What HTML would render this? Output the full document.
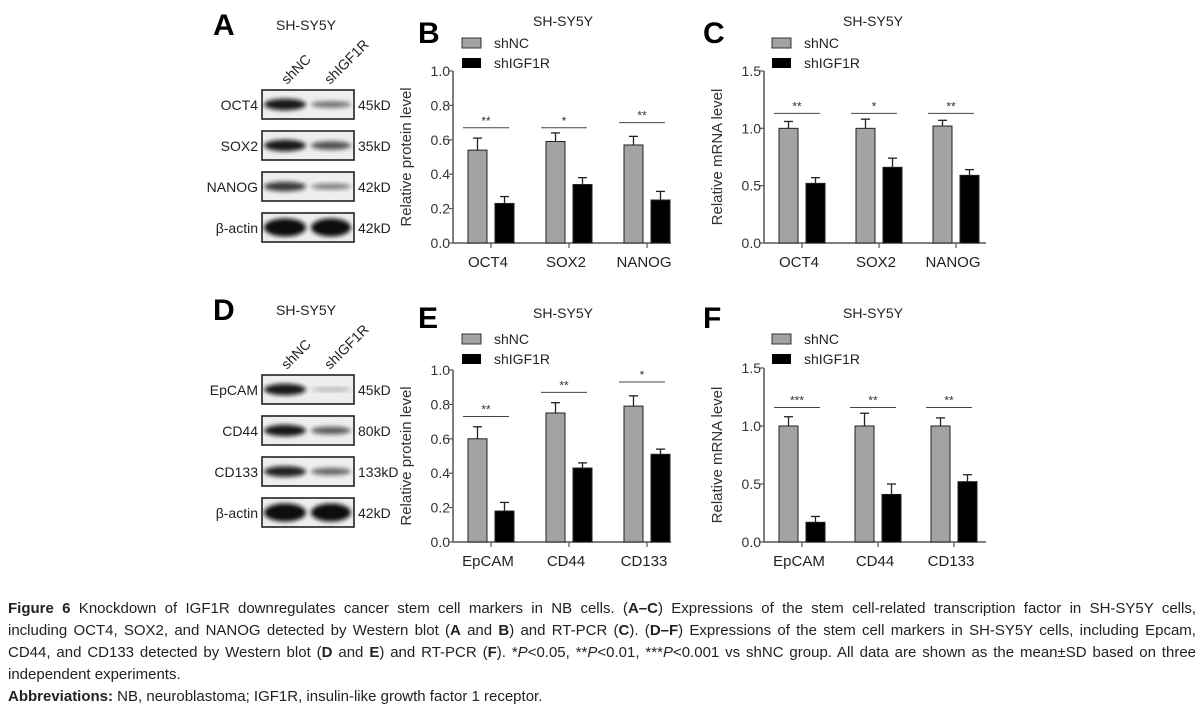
<!DOCTYPE html>
<html><head><meta charset="utf-8"><style>
body{margin:0;background:#fff;width:1204px;height:720px;overflow:hidden;font-family:"Liberation Sans",sans-serif}
#cap{position:absolute;left:8px;top:598px;width:1188px;font-size:15px;line-height:22px;color:#222}
#cap div{text-align:justify;text-align-last:justify;white-space:nowrap;overflow:visible}
#cap div.last{text-align-last:left}
</style></head><body>
<svg id="fig" width="1204" height="590" style="position:absolute;left:0;top:0" font-family="Liberation Sans, sans-serif">
<defs>
<filter id="blur" x="-20%" y="-50%" width="140%" height="200%"><feGaussianBlur stdDeviation="2.2"/></filter>
</defs>
</svg>
<div id="cap">
<div style="white-space:normal"><b>Figure 6</b> Knockdown of IGF1R downregulates cancer stem cell markers in NB cells. (<b>A–C</b>) Expressions of the stem cell-related transcription factor in SH-SY5Y cells,</div>
<div style="white-space:normal">including OCT4, SOX2, and NANOG detected by Western blot (<b>A</b> and <b>B</b>) and RT-PCR (<b>C</b>). (<b>D–F</b>) Expressions of the stem cell markers in SH-SY5Y cells, including Epcam,</div>
<div style="white-space:normal">CD44, and CD133 detected by Western blot (<b>D</b> and <b>E</b>) and RT-PCR (<b>F</b>). *<i>P</i>&lt;0.05, **<i>P</i>&lt;0.01, ***<i>P</i>&lt;0.001 vs shNC group. All data are shown as the mean±SD based on three</div>
<div class="last">independent experiments.</div>
<div class="last"><b>Abbreviations:</b> NB, neuroblastoma; IGF1R, insulin-like growth factor 1 receptor.</div>
</div>
<script>
// ---- data ----
const catsB = ["OCT4","SOX2","NANOG"];
const ncB = [0.54,0.59,0.57];
const ncErrB = [0.07,0.05,0.05];
const igB = [0.23,0.34,0.25];
const igErrB = [0.04,0.04,0.05];
const sigB = ["**","*","**"];
const sigYB = [0.67,0.67,0.70];
const ticksB = [0,0.2,0.4,0.6,0.8,1.0];
const tickLabelsB = ["0.0","0.2","0.4","0.6","0.8","1.0"];

const catsC = ["OCT4","SOX2","NANOG"];
const ncC = [1.0,1.0,1.02];
const ncErrC = [0.06,0.08,0.05];
const igC = [0.52,0.66,0.59];
const igErrC = [0.05,0.08,0.05];
const sigC = ["**","*","**"];
const sigYC = [1.13,1.13,1.13];
const ticksC = [0,0.5,1.0,1.5];
const tickLabelsC = ["0.0","0.5","1.0","1.5"];

const catsE = ["EpCAM","CD44","CD133"];
const ncE = [0.60,0.75,0.79];
const ncErrE = [0.07,0.06,0.06];
const igE = [0.18,0.43,0.51];
const igErrE = [0.05,0.03,0.03];
const sigE = ["**","**","*"];
const sigYE = [0.73,0.87,0.93];

const catsF = ["EpCAM","CD44","CD133"];
const ncF = [1.0,1.0,1.0];
const ncErrF = [0.08,0.11,0.07];
const igF = [0.17,0.41,0.52];
const igErrF = [0.05,0.09,0.06];
const sigF = ["***","**","**"];
const sigYF = [1.16,1.16,1.16];

const blotA = ["OCT4","SOX2","NANOG","β-actin"];
const kdA = ["45kD","35kD","42kD","42kD"];
const bandA = [[0.95,0.55],[0.95,0.7],[0.8,0.5],[1,1]];
const blotD = ["EpCAM","CD44","CD133","β-actin"];
const kdD = ["45kD","80kD","133kD","42kD"];
const bandD = [[0.95,0.3],[0.95,0.65],[0.9,0.6],[1,1]];

const NS="http://www.w3.org/2000/svg";
const svg=document.getElementById('fig');
function mk(tag,attrs,parent){const e=document.createElementNS(NS,tag);for(const k in attrs)e.setAttribute(k,attrs[k]);(parent||svg).appendChild(e);return e;}
function txt(s,attrs,parent){const e=mk('text',attrs,parent);e.textContent=s;return e;}

function chart(o){
  const g=mk('g',{});
  
  
  const x0=o.ax, y0=o.y0, y1=o.y1, max=o.max;
  const Y=v=>y0-(v/max)*(y0-y1);
  const X=i=>x0+38+i*o.step;
  const L=txt(o.letter,{x:o.lx,y:o.ly,'font-size':30,'font-weight':'bold',fill:'#000'},g);
  
  const T=txt('SH-SY5Y',{x:o.tx,y:o.ty,'font-size':14,fill:'#222','text-anchor':'middle'},g);
  
  const lg=mk('g',{},g);
  mk('rect',{x:o.legx,y:o.legy,width:19,height:10,fill:'#a3a3a3',stroke:'#333','stroke-width':1},lg);
  txt('shNC',{x:o.legx+32,y:o.legy+10,'font-size':14,fill:'#222'},lg);
  mk('rect',{x:o.legx,y:o.legy+20,width:19,height:10,fill:'#000'},lg);
  txt('shIGF1R',{x:o.legx+32,y:o.legy+30,'font-size':14,fill:'#222'},lg);
  mk('line',{x1:x0,y1:y1,x2:x0,y2:y0,stroke:'#555','stroke-width':1.5},g);
  mk('line',{x1:x0,y1:y0,x2:x0+o.len,y2:y0,stroke:'#555','stroke-width':1.5},g);
  o.ticks.forEach((t,i)=>{
    mk('line',{x1:x0-4,y1:Y(t),x2:x0,y2:Y(t),stroke:'#555','stroke-width':1.2},g);
    const tl=txt(o.tlabels[i],{x:x0-3,y:Y(t)+5,'font-size':14,fill:'#333','text-anchor':'end'},g);
    
  });
  const yt=txt(o.ytitle,{x:0,y:0,'font-size':15,fill:'#333','text-anchor':'middle',transform:`translate(${x0-42},${(y0+y1)/2}) rotate(-90)`},g);
  
  o.cats.forEach((c,i)=>{
    const cx=X(i);
    mk('line',{x1:cx,y1:y0,x2:cx,y2:y0+5,stroke:'#555','stroke-width':1.2},g);
    const cl=txt(c,{x:cx-3,y:y0+24,'font-size':15,fill:'#222','text-anchor':'middle'},g);
    
    [[o.nc,o.ncErr,'#a3a3a3',-23],[o.ig,o.igErr,'#000',4]].forEach(([vals,errs,fill,off],s)=>{
      const bx=cx+off, top=Y(vals[i]), et=Y(vals[i]+errs[i]);
      mk('line',{x1:bx+9.5,y1:top,x2:bx+9.5,y2:et,stroke:'#222','stroke-width':1.3},g);
      mk('line',{x1:bx+5,y1:et,x2:bx+14,y2:et,stroke:'#222','stroke-width':1.3},g);
      const b=mk('rect',{x:bx,y:top,width:19,height:y0-top,fill:fill,stroke:'#222','stroke-width':1},g);
      
      
    });
    const sy=Y(o.sigY[i]);
    mk('line',{x1:cx-28,y1:sy,x2:cx+18,y2:sy,stroke:'#444','stroke-width':1},g);
    const st=txt(o.sig[i],{x:cx-5,y:sy-3,'font-size':12,fill:'#333','text-anchor':'middle'},g);
    
  });
}

function blot(o){
  const g=mk('g',{});
  
  
  const L=txt(o.letter,{x:213,y:o.top-55,'font-size':30,'font-weight':'bold',fill:'#000'},g);
  
  txt('SH-SY5Y',{x:306,y:o.top-60,'font-size':14,fill:'#222','text-anchor':'middle'},g);
  txt('shNC',{x:0,y:0,'font-size':14,fill:'#222',transform:`translate(287,${o.top-5}) rotate(-45)`},g);
  txt('shIGF1R',{x:0,y:0,'font-size':14,fill:'#222',transform:`translate(330,${o.top-5}) rotate(-45)`},g);
  o.rows.forEach((r,i)=>{
    const y=o.top+i*41;
    const rg=mk('g',{},g);
    mk('rect',{x:262,y:y,width:92,height:29,fill:'#eeeeee',stroke:'#222','stroke-width':1.6},rg);
    const bh=i==3?9:6;
    mk('ellipse',{cx:285,cy:y+14.5,rx:21,ry:bh*o.bands[i][0],fill:'#111',opacity:o.bands[i][0],filter:'url(#blur)'},rg);
    mk('ellipse',{cx:331,cy:y+14.5,rx:20,ry:bh*o.bands[i][1],fill:'#111',opacity:o.bands[i][1],filter:'url(#blur)'},rg);
    txt(r,{x:258,y:y+20,'font-size':14,fill:'#222','text-anchor':'end'},rg);
    txt(o.kd[i],{x:358,y:y+20,'font-size':14,fill:'#222'},rg);
  });
}

blot({name:'blot-panel-a',letter:'A',top:90,rows:blotA,kd:kdA,bands:bandA});
blot({name:'blot-panel-d',letter:'D',top:375,rows:blotD,kd:kdD,bands:bandD});

chart({name:'chart-b',letter:'B',lx:418,ly:43,tx:563,ty:26,legx:462,legy:38,ax:453,y0:243,y1:71,max:1.0,step:78,len:218,
  ticks:ticksB,tlabels:tickLabelsB,ytitle:'Relative protein level',cats:catsB,nc:ncB,ncErr:ncErrB,ig:igB,igErr:igErrB,sig:sigB,sigY:sigYB});
chart({name:'chart-c',letter:'C',lx:703,ly:43,tx:873,ty:26,legx:772,legy:38,ax:764,y0:243,y1:71,max:1.5,step:77,len:222,
  ticks:ticksC,tlabels:tickLabelsC,ytitle:'Relative mRNA level',cats:catsC,nc:ncC,ncErr:ncErrC,ig:igC,igErr:igErrC,sig:sigC,sigY:sigYC});
chart({name:'chart-e',letter:'E',lx:418,ly:328,tx:563,ty:318,legx:462,legy:334,ax:453,y0:542,y1:370,max:1.0,step:78,len:218,
  ticks:ticksB,tlabels:tickLabelsB,ytitle:'Relative protein level',cats:catsE,nc:ncE,ncErr:ncErrE,ig:igE,igErr:igErrE,sig:sigE,sigY:sigYE});
chart({name:'chart-f',letter:'F',lx:703,ly:328,tx:873,ty:318,legx:772,legy:334,ax:764,y0:542,y1:368,max:1.5,step:76,len:222,
  ticks:ticksC,tlabels:tickLabelsC,ytitle:'Relative mRNA level',cats:catsF,nc:ncF,ncErr:ncErrF,ig:igF,igErr:igErrF,sig:sigF,sigY:sigYF});
</script>
</body></html>
